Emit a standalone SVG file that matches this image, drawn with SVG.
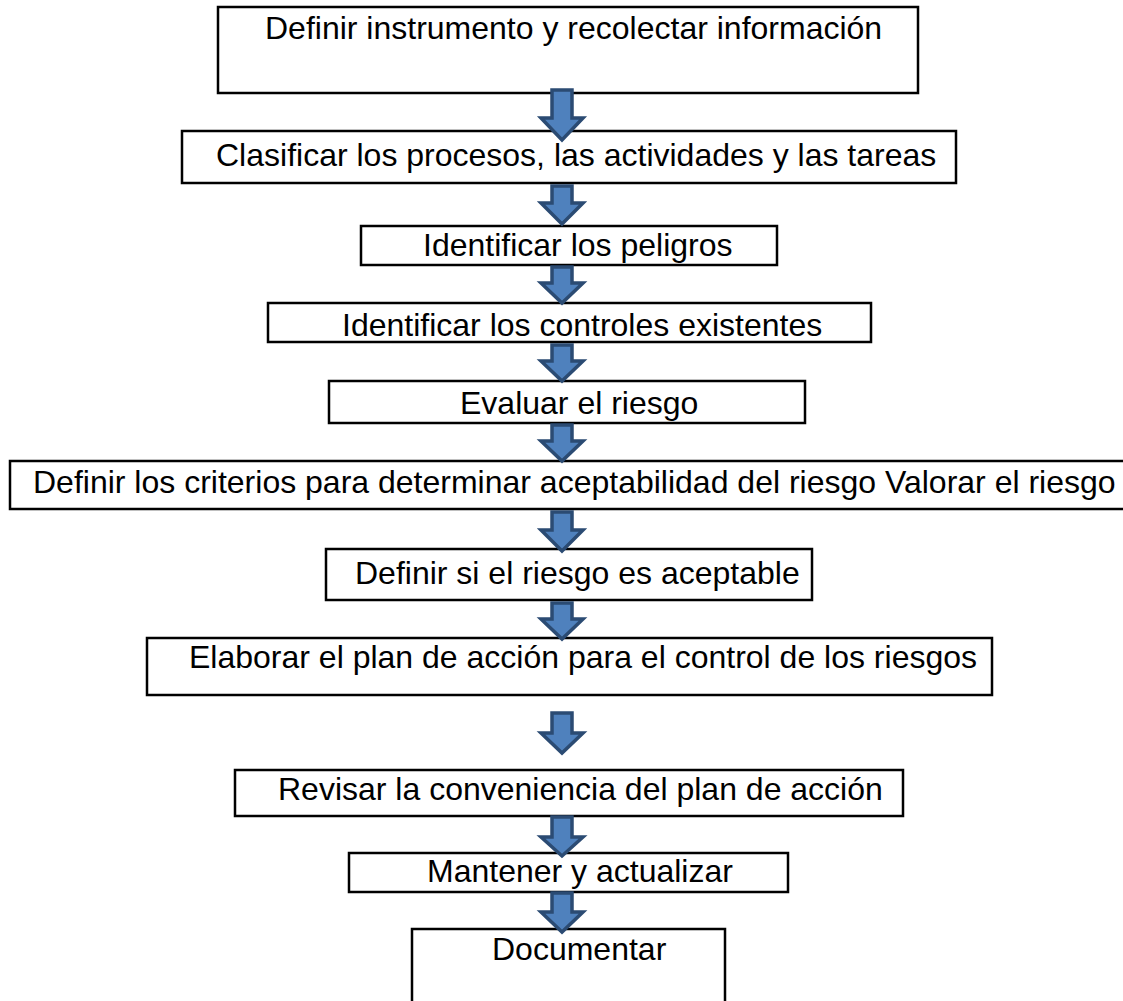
<svg xmlns="http://www.w3.org/2000/svg" width="1123" height="1001" viewBox="0 0 1123 1001">
<style>
.box{fill:#fff;stroke:#000;stroke-width:2.5}
.lbl{font-family:"Liberation Sans",Arial,sans-serif;font-size:32px;fill:#000}
.arr{fill:#4F81BD;stroke:#2B4B73;stroke-width:3.5;stroke-linejoin:miter}
</style>
<rect width="1123" height="1001" fill="#fff"/>
<g id="n1"><rect class="box" x="218" y="7" width="700" height="86"/><text class="lbl" x="265" y="39">Definir instrumento y recolectar información</text></g>
<g id="n2"><rect class="box" x="182" y="131" width="774" height="52"/><text class="lbl" x="216" y="166">Clasificar los procesos, las actividades y las tareas</text></g>
<g id="n3"><rect class="box" x="361" y="226" width="416" height="39"/><text class="lbl" x="423" y="256">Identificar los peligros</text></g>
<g id="n4"><rect class="box" x="268" y="303" width="603" height="39"/><text class="lbl" x="342" y="336">Identificar los controles existentes</text></g>
<g id="n5"><rect class="box" x="329" y="381" width="476" height="42"/><text class="lbl" x="460" y="414">Evaluar el riesgo</text></g>
<g id="n6"><rect class="box" x="10" y="461" width="1130" height="48"/><text class="lbl" x="33" y="493">Definir los criterios para determinar aceptabilidad del riesgo Valorar el riesgo</text></g>
<g id="n7"><rect class="box" x="326" y="549" width="486" height="51"/><text class="lbl" x="355" y="584">Definir si el riesgo es aceptable</text></g>
<g id="n8"><rect class="box" x="147" y="638" width="845" height="57"/><text class="lbl" x="189" y="668">Elaborar el plan de acción para el control de los riesgos</text></g>
<g id="n9"><rect class="box" x="235" y="770" width="668" height="46"/><text class="lbl" x="278" y="800">Revisar la conveniencia del plan de acción</text></g>
<g id="n10"><rect class="box" x="349" y="853" width="439" height="39"/><text class="lbl" x="427" y="882">Mantener y actualizar</text></g>
<g id="n11"><rect class="box" x="412" y="929" width="313" height="90"/><text class="lbl" x="492" y="960">Documentar</text></g>
<g id="connectors">
<path class="arr" d="M552,90 H572 V118 H583 L562,140 L541,118 H552 Z"/>
<path class="arr" d="M552,186 H572 V203 H583 L562,224 L541,203 H552 Z"/>
<path class="arr" d="M552,267 H572 V283 H583 L562,303 L541,283 H552 Z"/>
<path class="arr" d="M552,345 H572 V361 H583 L562,381 L541,361 H552 Z"/>
<path class="arr" d="M552,425 H572 V441 H583 L562,461 L541,441 H552 Z"/>
<path class="arr" d="M552,512 H572 V530 H583 L562,551 L541,530 H552 Z"/>
<path class="arr" d="M552,603 H572 V619 H583 L562,639 L541,619 H552 Z"/>
<path class="arr" d="M552,713 H572 V733 H583 L562,753 L541,733 H552 Z"/>
<path class="arr" d="M552,817 H572 V837 H583 L562,856 L541,837 H552 Z"/>
<path class="arr" d="M552,893 H572 V912 H583 L562,932 L541,912 H552 Z"/>
</g>
</svg>
